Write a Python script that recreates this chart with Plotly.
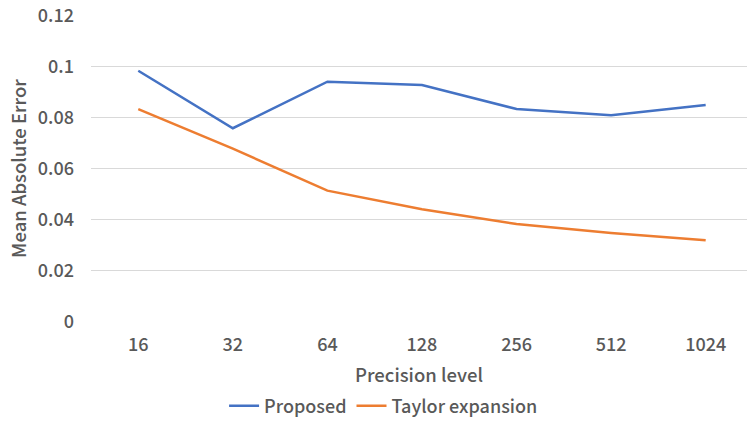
import plotly.graph_objects as go

categories = ["16", "32", "64", "128", "256", "512", "1024"]
proposed = [0.0983, 0.0758, 0.0940, 0.0927, 0.0833, 0.0809, 0.0849]
taylor = [0.0833, 0.0678, 0.0514, 0.0441, 0.0383, 0.0348, 0.0320]
y_ticks = [0, 0.02, 0.04, 0.06, 0.08, 0.1, 0.12]
y_tick_labels = ["0", "0.02", "0.04", "0.06", "0.08", "0.1", "0.12"]

FONT = "Noto Sans CJK JP"
TXT = "#595959"

def f(size=18):
    return dict(family=FONT, size=size, color=TXT, weight=500)

fig = go.Figure()
fig.add_trace(go.Scatter(x=list(range(len(categories))), y=proposed, mode="lines",
                         name="Proposed", line=dict(color="#4472C4", width=2.5)))
fig.add_trace(go.Scatter(x=list(range(len(categories))), y=taylor, mode="lines",
                         name="Taylor expansion", line=dict(color="#ED7D31", width=2.5)))

fig.update_layout(
    width=747, height=421,
    margin=dict(l=91, r=0, t=15, b=99, autoexpand=False),
    paper_bgcolor="white", plot_bgcolor="white",
    font=f(),
    showlegend=True,
    legend=dict(orientation="h", x=0.446, xanchor="center", y=-0.2736, yanchor="middle",
                font=f(18), itemwidth=30, tracegroupgap=0, bgcolor="rgba(0,0,0,0)"),
    xaxis=dict(
        tickmode="array", tickvals=list(range(len(categories))), ticktext=categories,
        range=[-0.5, 6.437], showgrid=False, zeroline=False, showline=False,
        ticks="", tickfont=f(18), automargin=False, ticklabelstandoff=10,
        title=dict(text="Precision level", font=f(18.5), standoff=14),
    ),
    yaxis=dict(
        range=[0, 0.1201], tickmode="array", tickvals=y_ticks, ticktext=y_tick_labels,
        showgrid=True, gridcolor="#D9D9D9", gridwidth=1, zeroline=False, showline=False,
        ticks="", tickfont=f(18), ticklabelstandoff=16, automargin=False,
        ticklabeloverflow="allow",
        title=dict(text="Mean Absolute Error", font=f(18.5), standoff=6),
    ),
)

fig.write_html("out.html", config={"displayModeBar": False},
               post_script="document.body.style.margin='0';")
